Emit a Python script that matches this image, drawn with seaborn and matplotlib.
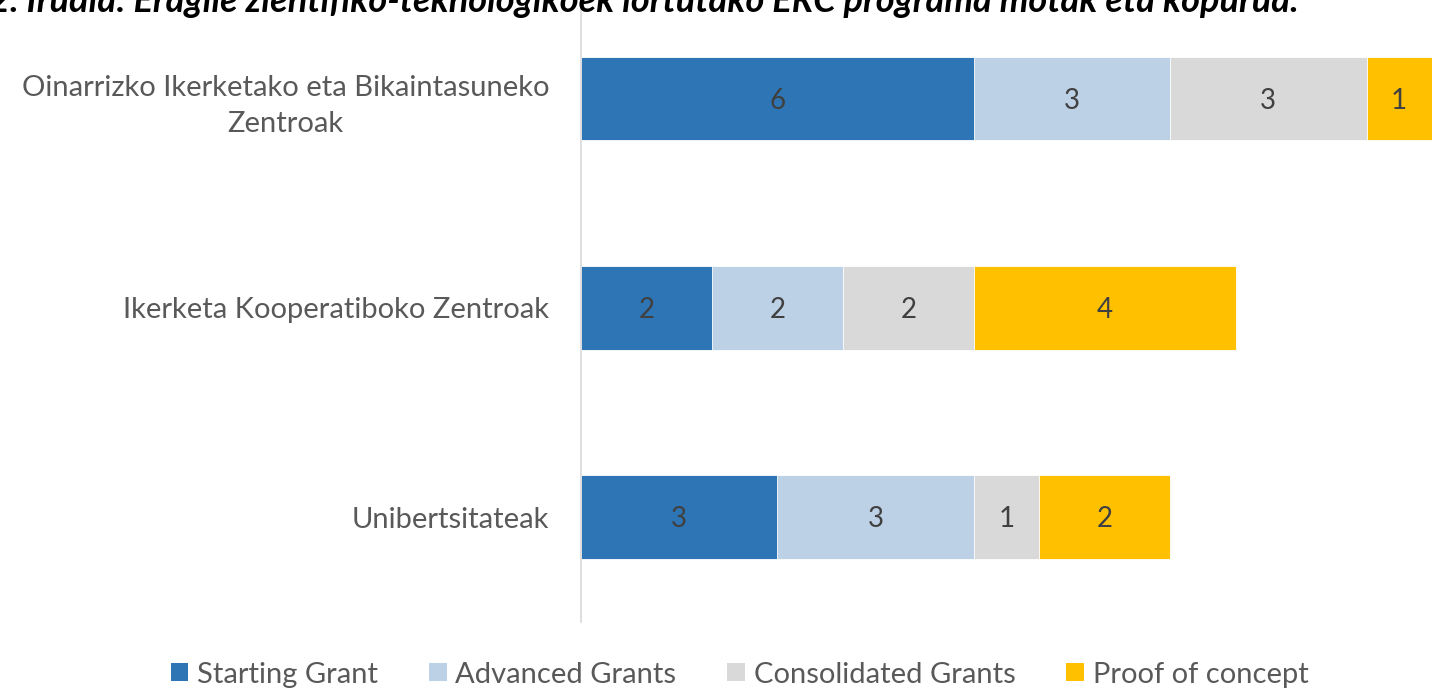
import pandas as pd
import matplotlib.pyplot as plt
import seaborn as sns
from matplotlib.patches import Patch

# Chart data
categories = ['Oinarrizko Ikerketako eta Bikaintasuneko\nZentroak',
              'Ikerketa Kooperatiboko Zentroak',
              'Unibertsitateak']
series = ['Starting Grant', 'Advanced Grants', 'Consolidated Grants', 'Proof of concept']
starting = [6, 2, 3]
advanced = [3, 2, 3]
consolidated = [3, 2, 1]
proof = [1, 4, 2]
colors = ['#2E75B6', '#BDD1E6', '#D9D9D9', '#FFC000']
title = '2. Irudia: Eragile zientifiko-teknologikoek lortutako ERC programa motak eta kopurua.'

sns.set_theme(style='white')
plt.rcParams['font.family'] = ['Lato', 'DejaVu Sans']

df = pd.DataFrame({'category': categories,
                   series[0]: starting, series[1]: advanced,
                   series[2]: consolidated, series[3]: proof})
values = df[series]
cum = values.cumsum(axis=1)

fig = plt.figure(figsize=(14.36, 6.95), dpi=100)
ax = fig.add_axes([0.4046, 0.105, 0.5926, 0.895])

# stacked bars: draw cumulative totals from the back to the front
for i in reversed(range(len(series))):
    sns.barplot(x=cum[series[i]], y=df['category'], color=colors[i], orient='h',
                width=0.4, ax=ax, edgecolor='white', linewidth=0.6, saturation=1)

# segment labels
for r in range(len(df)):
    for i, s in enumerate(series):
        v = values.loc[r, s]
        left = cum.loc[r, s] - v
        ax.text(left + v / 2, r + 0.01, str(v), ha='center', va='center',
                fontsize=20, color='#404040')

ax.set_xlim(0, 13)
ax.set_ylim(2.5, -0.47)
ax.set_xlabel('')
ax.set_ylabel('')
ax.set_xticks([])
for side in ['top', 'right', 'bottom']:
    ax.spines[side].set_visible(False)
ax.spines['left'].set_color('#D9D9D9')
ax.spines['left'].set_linewidth(1.2)
ax.tick_params(axis='y', length=0, pad=23, labelsize=21, labelcolor='#595959')
for lbl in ax.get_yticklabels():
    lbl.set_multialignment('center')
    lbl.set_linespacing(1.5)

handles = [Patch(facecolor=c, edgecolor='none') for c in colors]
fig.legend(handles, series, loc='lower center', bbox_to_anchor=(0.515, -0.027),
           ncol=4, frameon=False, fontsize=21, labelcolor='#595959',
           handlelength=0.6, handleheight=0.6, handletextpad=0.3, columnspacing=1.75)

fig.text(-0.008, 0.983, title, fontsize=26, fontweight='bold', fontstyle='italic',
         ha='left', va='baseline', color='black')

fig.savefig('out.png', dpi=100)
